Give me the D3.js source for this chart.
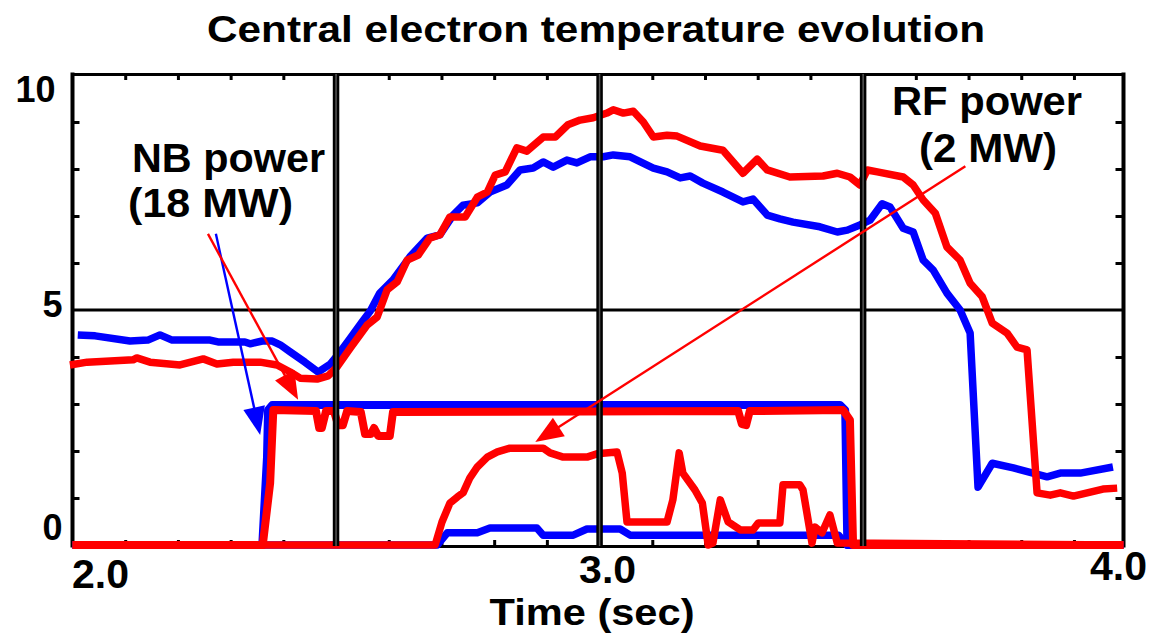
<!DOCTYPE html>
<html>
<head>
<meta charset="utf-8">
<script src="https://cdn.jsdelivr.net/npm/d3@7"></script>
<style>
  html, body { margin: 0; padding: 0; background: #fff; }
  svg { display: block; }
</style>
</head>
<body>
<svg id="chart" width="1150" height="634"></svg>
<script>
// ---- data: time (s), value (keV for Te, MW scaled for power traces) ----
const chartTitle = "Central electron temperature evolution";
const xAxisTitle = "Time (sec)";
const xTickLabels = [{ t: 2.0, text: "2.0" }, { t: 3.0, text: "3.0" }, { t: 4.0, text: "4.0" }];
const yTickLabels = [{ v: 10, text: "10" }, { v: 5, text: "5" }, { v: 0, text: "0" }];
const minorYTicks = [1, 2, 3, 4, 6, 7, 8, 9];
const gridTimes = [2.5, 3.0, 3.5];
const gridValues = [5];

// Central Te, NB only (blue)
const teBlue = [
  [2.010,4.47],[2.043,4.45],[2.109,4.34],[2.143,4.36],[2.166,4.47],[2.189,4.36],[2.261,4.36],
  [2.276,4.32],[2.327,4.32],[2.337,4.28],[2.360,4.34],[2.379,4.34],[2.394,4.26],[2.413,4.11],
  [2.441,3.89],[2.466,3.68],[2.489,3.85],[2.508,4.11],[2.527,4.40],[2.549,4.74],[2.565,4.98],
  [2.583,5.36],[2.608,5.64],[2.640,6.13],[2.673,6.53],[2.697,6.60],[2.722,7.02],[2.741,7.23],
  [2.768,7.28],[2.792,7.51],[2.824,7.66],[2.849,7.98],[2.874,8.02],[2.893,8.15],[2.912,8.04],
  [2.938,8.19],[2.957,8.13],[2.982,8.26],[3.007,8.26],[3.026,8.30],[3.058,8.26],[3.102,8.02],
  [3.128,7.94],[3.153,7.81],[3.172,7.85],[3.196,7.70],[3.234,7.51],[3.272,7.30],[3.291,7.36],
  [3.318,7.02],[3.342,6.94],[3.367,6.87],[3.418,6.77],[3.451,6.66],[3.470,6.70],[3.494,6.81],
  [3.513,6.91],[3.536,7.26],[3.551,7.19],[3.576,6.74],[3.595,6.66],[3.614,6.06],[3.633,5.85],
  [3.659,5.36],[3.684,5.00],[3.703,4.51],[3.718,1.23],[3.745,1.74],[3.785,1.64],[3.849,1.45],
  [3.874,1.53],[3.912,1.53],[3.974,1.66]
];

// Central Te, NB + RF (red)
const teRed = [
  [1.995,3.83],[2.028,3.89],[2.115,3.94],[2.122,3.98],[2.147,3.89],[2.204,3.83],[2.248,3.96],
  [2.274,3.85],[2.305,3.89],[2.356,3.89],[2.388,3.83],[2.413,3.68],[2.432,3.55],[2.464,3.53],
  [2.485,3.60],[2.502,3.79],[2.527,4.19],[2.559,4.68],[2.578,4.85],[2.597,5.43],[2.616,5.60],
  [2.635,6.06],[2.656,6.17],[2.678,6.53],[2.697,6.60],[2.716,6.98],[2.745,6.98],[2.768,7.40],
  [2.787,7.51],[2.802,7.87],[2.821,7.94],[2.843,8.45],[2.862,8.38],[2.893,8.68],[2.916,8.68],
  [2.940,8.94],[2.963,9.04],[2.988,9.09],[3.014,9.19],[3.026,9.26],[3.045,9.19],[3.064,9.23],
  [3.083,9.00],[3.102,8.68],[3.128,8.72],[3.147,8.70],[3.191,8.49],[3.234,8.40],[3.272,7.91],
  [3.299,8.21],[3.318,7.98],[3.361,7.83],[3.424,7.85],[3.451,7.91],[3.475,7.83],[3.494,7.66],
  [3.508,7.98],[3.527,7.94],[3.576,7.83],[3.595,7.66],[3.614,7.34],[3.637,7.06],[3.659,6.34],
  [3.684,6.06],[3.703,5.57],[3.726,5.28],[3.745,4.72],[3.773,4.51],[3.792,4.21],[3.811,4.15],
  [3.830,1.11],[3.855,1.06],[3.874,1.11],[3.899,1.04],[3.955,1.19],[3.982,1.21]
];

// NB power traces
const nbBlue = [
  [2.000,0],[2.360,0],[2.369,1.87],[2.371,2.87],[2.379,2.98],[3.456,2.98],[3.466,2.87],
  [3.470,0],[3.994,0]
];
const nbRed = [
  [2.000,0],[2.361,0],[2.375,1.32],[2.381,2.87],[2.462,2.85],[2.468,2.49],[2.473,2.49],
  [2.481,2.85],[2.496,2.85],[2.504,2.55],[2.513,2.55],[2.521,2.85],[2.547,2.83],[2.555,2.36],
  [2.566,2.36],[2.572,2.49],[2.580,2.32],[2.602,2.32],[2.608,2.83],[3.263,2.85],[3.270,2.57],
  [3.278,2.55],[3.285,2.85],[3.462,2.87],[3.475,2.66],[3.481,0],[3.994,0]
];

// RF power traces
const rfBlue = [
  [2.000,0],[2.692,0],[2.711,0.26],[2.768,0.26],[2.792,0.36],[2.881,0.36],[2.893,0.21],
  [2.950,0.21],[2.976,0.34],[3.039,0.34],[3.058,0.21],[3.453,0.21],[3.470,0],[3.994,0]
];
const rfRed = [
  [2.000,0],[2.688,0],[2.701,0.49],[2.716,0.89],[2.730,1.02],[2.741,1.11],[2.754,1.43],
  [2.768,1.66],[2.787,1.87],[2.806,1.98],[2.830,2.06],[2.893,2.06],[2.906,1.96],[2.931,1.87],
  [2.976,1.87],[2.995,1.94],[3.033,1.98],[3.043,1.53],[3.052,0.49],[3.128,0.49],[3.139,0.96],
  [3.151,1.96],[3.158,1.53],[3.181,1.17],[3.195,0.89],[3.206,0],[3.215,0.04],[3.229,0.96],
  [3.244,0.49],[3.267,0.32],[3.291,0.32],[3.301,0.47],[3.342,0.47],[3.348,1.28],[3.380,1.28],
  [3.386,1.17],[3.403,0.04],[3.409,0.38],[3.422,0.26],[3.437,0.64],[3.451,0.04],[3.994,0]
];

// Annotations: label lines and arrow endpoints in data coordinates
const annotations = [
  { lines: ["NB power", "(18 MW)"], x: [132, 128], y: [172, 217], w: [193, 165] },
  { lines: ["RF power", "(2 MW)"], x: [892, 919], y: [115, 162], w: [190, 138] }
];
const arrows = [
  { from: [2.272, 6.62], to: [2.356, 2.34], color: "#0000ff" },
  { from: [2.257, 6.62], to: [2.428, 3.09], color: "#ff0000" },
  { from: [3.694, 8.06], to: [2.878, 2.19], color: "#ff0000" }
];

// ---- layout ----
const FONT = "'Liberation Sans', Arial, Helvetica, sans-serif";
const BLUE = "#0000ff", RED = "#ff0000";
const svg = d3.select("#chart");
svg.append("rect").attr("width", 1150).attr("height", 634).attr("fill", "#fff");

const x = d3.scaleLinear().domain([2, 3.994]).range([72.5, 1123.5]);
const y = d3.scaleLinear().domain([0, 10]).range([545, 75]);
const frameTop = 74, frameBottom = 546;

// horizontal grid line at 5
svg.selectAll(".hgrid").data(gridValues).join("line")
  .attr("x1", x(2)).attr("x2", x(3.994))
  .attr("y1", d => y(d)).attr("y2", d => y(d))
  .attr("stroke", "#000").attr("stroke-width", 3);

// frame and inward ticks via axes
const minorX = d3.range(21, 40).map(d => d / 10).filter(t => !gridTimes.some(g => Math.abs(g - t) < 1e-6));

function styleAxis(g, w) {
  g.select(".domain").attr("stroke", "#000").attr("stroke-width", w);
  g.selectAll(".tick line").attr("stroke", "#000").attr("stroke-width", 3);
  g.selectAll(".tick text").remove();
}
svg.append("g").attr("transform", `translate(0,${frameTop})`)
  .call(d3.axisTop(x).tickValues(minorX).tickSize(-6).tickSizeOuter(0).tickFormat(""))
  .call(g => styleAxis(g, 3));
svg.append("g").attr("transform", `translate(0,${frameBottom})`)
  .call(d3.axisBottom(x).tickValues(minorX).tickSize(-6).tickSizeOuter(0).tickFormat(""))
  .call(g => styleAxis(g, 3));
svg.append("g").attr("transform", `translate(${x(2)},0)`)
  .call(d3.axisLeft(y).tickValues(minorYTicks).tickSize(-7).tickSizeOuter(0).tickFormat(""))
  .call(g => styleAxis(g, 4))
  .call(g => g.select(".domain").attr("d", `M0,${frameTop - 1.5}V${frameBottom + 1.5}`));
svg.append("g").attr("transform", `translate(${x(3.994)},0)`)
  .call(d3.axisRight(y).tickValues(minorYTicks).tickSize(-8).tickSizeOuter(0).tickFormat(""))
  .call(g => styleAxis(g, 4))
  .call(g => g.select(".domain").attr("d", `M0,${frameTop - 1.5}V${frameBottom + 1.5}`));

// traces
const line = d3.line().x(d => x(d[0])).y(d => y(d[1]));
const series = [
  { data: nbBlue, color: BLUE, w: 8 },
  { data: rfBlue, color: BLUE, w: 7.5 },
  { data: teBlue, color: BLUE, w: 7.5 },
  { data: nbRed, color: RED, w: 8 },
  { data: rfRed, color: RED, w: 7.5 },
  { data: teRed, color: RED, w: 7.5 }
];
svg.append("g").selectAll("path").data(series).join("path")
  .attr("d", d => line(d.data))
  .attr("fill", "none")
  .attr("stroke", d => d.color)
  .attr("stroke-width", d => d.w)
  .attr("stroke-linejoin", "round")
  .attr("stroke-linecap", "butt");

// vertical time markers (double rule)
const vg = svg.append("g");
vg.selectAll(".vmark").data(gridTimes).join("line")
  .attr("x1", d => x(d)).attr("x2", d => x(d))
  .attr("y1", frameTop).attr("y2", frameBottom)
  .attr("stroke", "#000").attr("stroke-width", 6.5);
vg.selectAll(".vcore").data(gridTimes).join("line")
  .attr("x1", d => x(d)).attr("x2", d => x(d))
  .attr("y1", frameTop).attr("y2", frameBottom)
  .attr("stroke", "#555").attr("stroke-width", 1.5);

// arrows
const ag = svg.append("g");
arrows.forEach(a => {
  const x0 = x(a.from[0]), y0 = y(a.from[1]);
  const x1 = x(a.to[0]), y1 = y(a.to[1]);
  const dx = x1 - x0, dy = y1 - y0, len = Math.hypot(dx, dy);
  const ux = dx / len, uy = dy / len, px = -uy, py = ux;
  const hl = 28, hw = 11;
  const bx = x1 - ux * hl, by = y1 - uy * hl;
  ag.append("line")
    .attr("x1", x0).attr("y1", y0).attr("x2", bx + ux * 2).attr("y2", by + uy * 2)
    .attr("stroke", a.color).attr("stroke-width", 2.4);
  ag.append("path")
    .attr("d", `M${x1},${y1}L${bx + px * hw},${by + py * hw}L${bx - px * hw},${by - py * hw}Z`)
    .attr("fill", a.color);
});

// text
const txt = (s, xx, yy, size, anchor, len) => {
  const t = svg.append("text")
    .attr("x", xx).attr("y", yy)
    .attr("font-family", FONT).attr("font-weight", "bold")
    .attr("font-size", size).attr("fill", "#000")
    .attr("text-anchor", anchor)
    .text(s);
  if (len) t.attr("textLength", len).attr("lengthAdjust", "spacingAndGlyphs");
  return t;
};

txt(chartTitle, 596, 42, 37, "middle", 778);
txt(xAxisTitle, 592, 625, 37, "middle", 205);

// y tick labels
const yLabelPos = { 10: [x(2) - 17, y(10) + 27], 5: [x(2) - 10, y(5) + 7], 0: [x(2) - 10, y(0) - 5] };
yTickLabels.forEach(d => txt(d.text, yLabelPos[d.v][0], yLabelPos[d.v][1], 36, "end"));

// x tick labels
const xLabelPos = {
  2: ["start", x(2) - 0.5, 588, 40],
  3: ["middle", x(3) + 8, 583, 39],
  4: ["end", 1147, 580, 40]
};
xTickLabels.forEach(d => {
  const p = xLabelPos[Math.round(d.t)];
  txt(d.text, p[1], p[2], p[3], p[0], 57);
});

// annotation labels
annotations.forEach(a => a.lines.forEach((s, i) => txt(s, a.x[i], a.y[i], 40, "start", a.w[i])));
</script>
</body>
</html>
